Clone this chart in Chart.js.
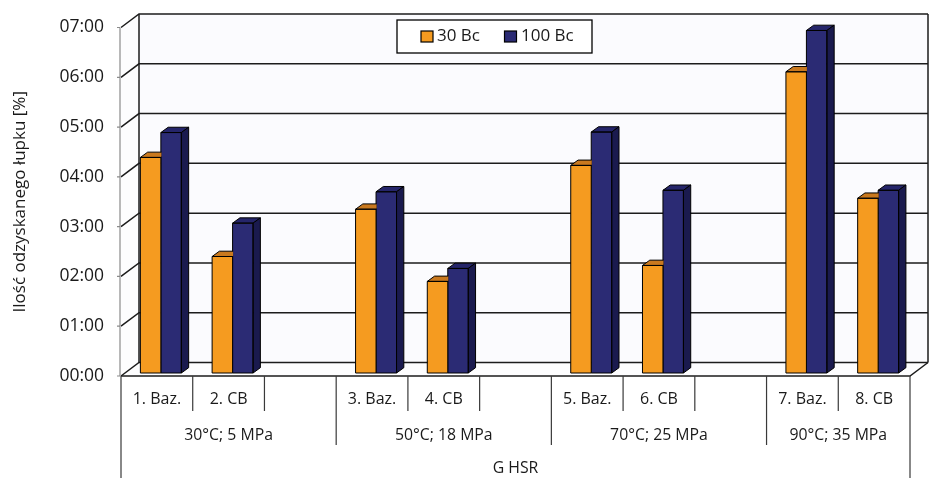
<!DOCTYPE html>
<html>
<head>
<meta charset="utf-8">
<script src="https://cdn.jsdelivr.net/npm/chart.js@4/dist/chart.umd.min.js"></script>
<style>
  html, body { margin: 0; padding: 0; background: #ffffff; }
  #wrap { width: 930px; height: 478px; }
</style>
</head>
<body>
<div id="wrap"><canvas id="c" width="930" height="478"></canvas></div>
<script>
// ---- data ----
const categories = ['1. Baz.', '2. CB', '', '3. Baz.', '4. CB', '', '5. Baz.', '6. CB', '', '7. Baz.', '8. CB'];
const series30 = [4.33, 2.34, null, 3.29, 1.84, null, 4.17, 2.16, null, 6.05, 3.51];
const series100 = [4.83, 3.01, null, 3.64, 2.10, null, 4.84, 3.67, null, 6.88, 3.67];
const seriesNames = ['30 Bc', '100 Bc'];
const groupLabels = ['30°C; 5 MPa', '50°C; 18 MPa', '70°C; 25 MPa', '90°C; 35 MPa'];
const groupSizes = [3, 3, 3, 2];
const topGroupLabel = 'G HSR';
const yTicks = [0, 1, 2, 3, 4, 5, 6, 7];
const yTitle = 'Ilość odzyskanego łupku [%]';

// ---- styling constants ----
const FONT = "'Open Sans', 'Noto Sans', sans-serif";
const WALL_DX = 18, WALL_DY = -13.5;   // depth of the 3D box
const BAR_DX = 4, BAR_DY = -3;         // bar plane offset from front
const BAR_TX = 7.3, BAR_TY = -5.3;     // bar depth
const faceColors = [
  { front: '#F59B20', top: '#C9791F', side: '#B8691A' },
  { front: '#2B2B74', top: '#25256A', side: '#1A1A4E' }
];

function fmtTick(v) { return (v < 10 ? '0' : '') + v + ':00'; }

const box3d = {
  id: 'box3d',
  beforeDatasetsDraw(chart) {
    const { ctx, chartArea: a, scales } = chart;
    const y = scales.y;
    ctx.save();
    ctx.fillStyle = '#fbfbfe';
    ctx.fillRect(a.left + WALL_DX, a.top + WALL_DY, a.right - a.left, a.bottom - a.top);
    ctx.beginPath();
    ctx.moveTo(a.left, a.top); ctx.lineTo(a.left + WALL_DX, a.top + WALL_DY);
    ctx.lineTo(a.left + WALL_DX, a.bottom + WALL_DY); ctx.lineTo(a.left, a.bottom); ctx.closePath();
    ctx.fillStyle = '#fdfdfe'; ctx.fill();
    ctx.beginPath();
    ctx.moveTo(a.left, a.bottom); ctx.lineTo(a.right, a.bottom);
    ctx.lineTo(a.right + WALL_DX, a.bottom + WALL_DY); ctx.lineTo(a.left + WALL_DX, a.bottom + WALL_DY); ctx.closePath();
    ctx.fillStyle = '#fdfdfe'; ctx.fill();

    ctx.strokeStyle = '#1c1c1c';
    ctx.lineWidth = 1.5;
    yTicks.forEach(v => {
      const py = y.getPixelForValue(v);
      ctx.beginPath();
      ctx.moveTo(a.left, py);
      ctx.lineTo(a.left + WALL_DX, py + WALL_DY);
      ctx.lineTo(a.right + WALL_DX, py + WALL_DY);
      ctx.stroke();
    });
    ctx.beginPath();
    ctx.moveTo(a.left + WALL_DX, a.top + WALL_DY); ctx.lineTo(a.left + WALL_DX, a.bottom + WALL_DY);
    ctx.moveTo(a.right + WALL_DX, a.top + WALL_DY); ctx.lineTo(a.right + WALL_DX, a.bottom + WALL_DY);
    ctx.stroke();
    ctx.beginPath();
    ctx.moveTo(a.left, a.bottom); ctx.lineTo(a.right, a.bottom);
    ctx.lineTo(a.right + WALL_DX, a.bottom + WALL_DY);
    ctx.stroke();
    ctx.strokeStyle = '#8a8a8a';
    ctx.lineWidth = 1.2;
    ctx.beginPath();
    ctx.moveTo(a.left - 1, a.top); ctx.lineTo(a.left - 1, a.bottom);
    yTicks.forEach(v => {
      const py = y.getPixelForValue(v);
      ctx.moveTo(a.left - 4, py); ctx.lineTo(a.left - 1, py);
    });
    ctx.stroke();
    ctx.restore();

    // shift bar plane
    ctx.save();
    ctx.translate(BAR_DX, BAR_DY);
  },
  afterDatasetDraw(chart, args) {
    const { ctx } = chart;
    const meta = args.meta;
    const col = faceColors[meta.index] || faceColors[0];
    const isLast = meta.index === chart.data.datasets.length - 1;
    ctx.save();
    ctx.strokeStyle = '#000';
    ctx.lineWidth = 1;
    ctx.lineJoin = 'round';
    meta.data.forEach((el, i) => {
      const raw = chart.data.datasets[meta.index].data[i];
      if (raw === null || raw === undefined) return;
      const p = el.getProps(['x', 'y', 'base', 'width'], true);
      const l = p.x - p.width / 2, r = p.x + p.width / 2;
      ctx.save();
      if (!isLast) {
        ctx.beginPath();
        ctx.rect(l - 2, p.y + BAR_TY - 3, p.width + 2.5, p.base - p.y + 10);
        ctx.clip();
      }
      ctx.beginPath();
      ctx.moveTo(l, p.y); ctx.lineTo(r, p.y);
      ctx.lineTo(r + BAR_TX, p.y + BAR_TY); ctx.lineTo(l + BAR_TX, p.y + BAR_TY); ctx.closePath();
      ctx.fillStyle = col.top; ctx.fill(); ctx.stroke();
      if (isLast) {
        ctx.beginPath();
        ctx.moveTo(r, p.y); ctx.lineTo(r + BAR_TX, p.y + BAR_TY);
        ctx.lineTo(r + BAR_TX, p.base + BAR_TY); ctx.lineTo(r, p.base); ctx.closePath();
        ctx.fillStyle = col.side; ctx.fill(); ctx.stroke();
      }
      ctx.restore();
      ctx.strokeRect(l, p.y, p.width, p.base - p.y);
    });
    ctx.restore();
  },
  afterDatasetsDraw(chart) {
    chart.ctx.restore();
  },
  afterDraw(chart) {
    const { ctx, chartArea: a, scales } = chart;
    const x = scales.x;
    const n = categories.length;
    const bnd = [];
    for (let i = 0; i <= n; i++) {
      if (i === 0) bnd.push(a.left);
      else if (i === n) bnd.push(a.right);
      else bnd.push((x.getPixelForValue(i - 1) + x.getPixelForValue(i)) / 2);
    }
    ctx.save();
    ctx.strokeStyle = '#3a3a3a';
    ctx.lineWidth = 1.2;
    const groupEdges = [0];
    groupSizes.forEach(s => groupEdges.push(groupEdges[groupEdges.length - 1] + s));
    ctx.beginPath();
    for (let i = 0; i <= n; i++) {
      let yEnd;
      if (i === 0 || i === n) yEnd = chart.height;
      else if (groupEdges.includes(i)) yEnd = a.bottom + 69;
      else yEnd = a.bottom + 35;
      ctx.moveTo(bnd[i], a.bottom); ctx.lineTo(bnd[i], yEnd);
    }
    ctx.stroke();

    ctx.fillStyle = '#1a1a1a';
    ctx.font = '15.8px ' + FONT;
    ctx.textAlign = 'center';
    ctx.textBaseline = 'middle';
    groupLabels.forEach((g, gi) => {
      const s = groupEdges[gi], e = groupEdges[gi + 1];
      ctx.fillText(g, (bnd[s] + bnd[e]) / 2, a.bottom + 59);
    });
    ctx.fillText(topGroupLabel, (a.left + a.right) / 2, a.bottom + 92);

    const lx = 397, ly = 20, lw = 195, lh = 33;
    ctx.fillStyle = '#ffffff';
    ctx.fillRect(lx, ly, lw, lh);
    ctx.strokeStyle = '#000';
    ctx.lineWidth = 1.3;
    ctx.strokeRect(lx, ly, lw, lh);
    ctx.font = '17px ' + FONT;
    ctx.textAlign = 'left';
    const items = [{ sx: 421, tx: 437 }, { sx: 504.5, tx: 521 }];
    chart.data.datasets.forEach((ds, i) => {
      const it = items[i];
      ctx.fillStyle = ds.backgroundColor;
      ctx.fillRect(it.sx, ly + 11, 12, 11);
      ctx.lineWidth = 1.2;
      ctx.strokeRect(it.sx, ly + 11, 12, 11);
      ctx.fillStyle = '#1a1a1a';
      ctx.fillText(ds.label, it.tx, ly + 16.5);
    });
    ctx.restore();
  }
};

new Chart(document.getElementById('c'), {
  type: 'bar',
  data: {
    labels: categories,
    datasets: [
      { label: seriesNames[0], data: series30, backgroundColor: faceColors[0].front, borderWidth: 0 },
      { label: seriesNames[1], data: series100, backgroundColor: faceColors[1].front, borderWidth: 0 }
    ]
  },
  options: {
    responsive: false,
    devicePixelRatio: 1,
    animation: false,
    layout: { padding: { top: 26, right: 20, left: 0, bottom: 0 } },
    plugins: {
      legend: { display: false },
      tooltip: { enabled: false }
    },
    datasets: { bar: { categoryPercentage: 0.571, barPercentage: 1.0, skipNull: false } },
    scales: {
      x: {
        grid: { display: false, drawTicks: false },
        border: { display: false },
        ticks: {
          autoSkip: false, maxRotation: 0, minRotation: 0,
          padding: 14, color: '#1a1a1a',
          font: { family: FONT, size: 16 }
        },
        afterFit(scale) { scale.height = 102; }
      },
      y: {
        min: 0, max: 7,
        grid: { display: false, drawTicks: false },
        border: { display: false },
        afterBuildTicks(scale) { scale.ticks = yTicks.map(v => ({ value: v })); },
        ticks: {
          padding: 17, color: '#1a1a1a',
          font: { family: FONT, size: 17.5 },
          callback: v => fmtTick(v)
        },
        title: {
          display: true, text: yTitle, color: '#1a1a1a',
          font: { family: FONT, size: 17 },
          padding: { top: 10, bottom: 0 }
        },
        afterFit(scale) { scale.width = 121; }
      }
    }
  },
  plugins: [box3d]
});
</script>
</body>
</html>
